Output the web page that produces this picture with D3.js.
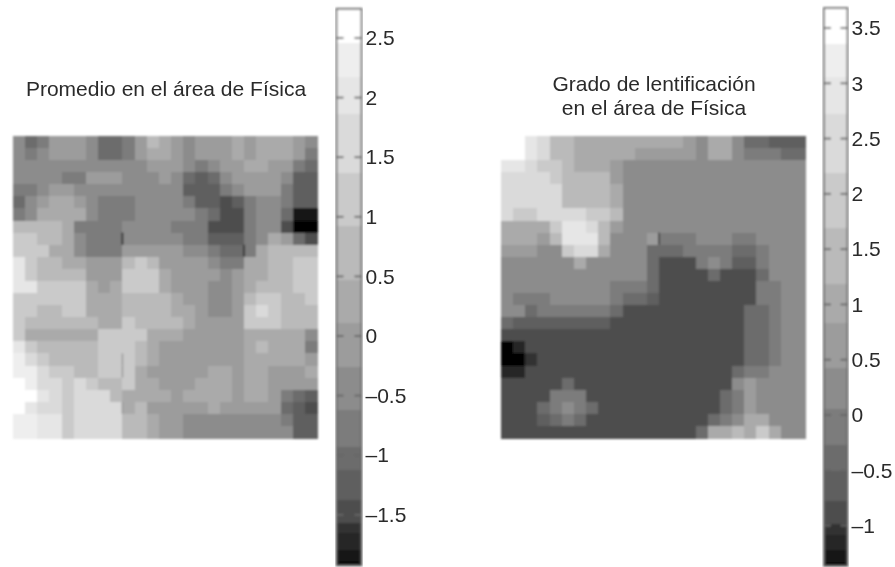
<!DOCTYPE html>
<html><head><meta charset="utf-8">
<script src="https://cdnjs.cloudflare.com/ajax/libs/d3/7.8.5/d3.min.js"></script>
<style>html,body{margin:0;padding:0;background:#fff}svg{display:block}text{font-family:"Liberation Sans",Arial,sans-serif;fill:#2b2b2b}</style>
</head><body><svg id="c" width="895" height="567"></svg>
<script>
const grays=["#000000","#161616","#262626","#333333","#4e4e4e","#5e5e5e","#6c6c6c","#7c7c7c","#8c8c8c","#9c9c9c","#aaaaaa","#bababa","#cacaca","#dadada","#e6e6e6","#eeeeee","#ffffff"];
const bandEdgesA=[-1.925,-1.89,-1.79,-1.65,-1.565,-1.37,-1.12,-0.93,-0.62,-0.26,0.117,0.47,0.93,1.372,1.866,2.176,2.46,2.745];
const bandEdgesB=[-1.365,-1.33,-1.22,-1.08,-0.98,-0.77,-0.50,-0.27,0.06,0.43,0.84,1.19,1.70,2.19,2.73,3.06,3.36,3.68];
const ticksA=[2.5,2,1.5,1,0.5,0,-0.5,-1,-1.5];
const ticksB=[3.5,3,2.5,2,1.5,1,0.5,0,-0.5,-1];
const titleA=["Promedio en el área de Física"];
const titleB=["Grado de lentificación","en el área de Física"];
const levelsA=[
[8,6,7,9,9,9,8,6,6,7,9,11,10,9,8,9,9,9,10,9,10,10,10,9,8],
[8,7,8,9,9,9,8,6,6,7,9,10,10,9,8,9,9,9,10,9,10,10,10,9,7],
[8,8,8,8,8,8,8,8,8,8,8,9,9,9,8,7,8,9,9,10,10,9,9,7,6],
[8,8,8,8,7,7,9,9,9,8,8,8,9,8,6,5,6,8,9,9,9,9,8,5,5],
[7,7,8,9,9,8,8,8,8,8,8,8,8,8,5,5,5,7,8,9,9,9,7,5,5],
[6,8,9,10,10,9,8,7,7,7,8,8,8,8,7,5,5,4,5,7,8,8,7,5,5],
[7,8,10,10,10,10,8,7,7,7,8,8,8,8,8,7,6,4,4,7,8,8,6,1,1],
[11,11,11,11,10,7,7,7,7,8,8,8,8,7,7,7,4,4,4,7,8,8,4,0,0],
[12,12,11,11,10,8,7,7,7,8,8,8,8,8,7,7,5,5,5,7,8,10,9,6,4],
[12,12,12,10,10,8,7,7,7,9,9,9,9,9,8,8,7,6,6,7,10,11,11,11,11],
[14,12,11,11,10,10,9,9,9,11,12,11,9,9,9,9,8,7,7,10,10,11,11,12,12],
[14,12,11,11,11,11,9,9,9,12,12,12,10,9,9,9,9,8,9,10,10,11,11,12,12],
[14,14,12,12,12,12,10,9,10,12,12,12,10,9,9,9,8,8,9,10,11,11,11,12,12],
[12,12,12,12,12,12,10,10,10,11,11,11,11,10,9,9,8,8,9,11,12,12,11,11,12],
[12,12,11,11,12,12,10,10,10,11,11,11,11,10,10,9,8,8,9,12,13,12,11,11,11],
[12,11,11,11,11,11,11,10,10,12,11,11,11,11,10,9,9,9,9,12,12,12,11,11,11],
[12,10,10,10,10,10,10,12,12,12,12,10,10,10,9,9,9,9,9,10,10,10,10,10,8],
[14,12,11,11,11,11,11,12,12,12,11,10,9,9,9,9,9,9,9,10,11,10,10,10,7],
[15,13,12,11,11,11,11,12,12,12,11,10,9,9,9,9,9,9,9,10,10,10,10,10,9],
[15,15,13,12,12,11,11,12,12,12,10,9,9,9,9,9,10,10,9,10,10,9,9,9,10],
[16,15,13,13,12,13,12,11,11,12,10,10,9,9,9,10,10,10,9,10,10,9,9,9,9],
[16,16,14,13,12,13,13,13,11,10,10,10,10,9,10,10,10,10,9,10,10,9,7,6,5],
[16,14,13,13,12,13,13,13,13,10,11,9,9,9,9,9,10,9,9,9,9,9,6,5,4],
[15,15,14,14,12,13,13,13,13,11,11,10,9,9,8,8,8,8,8,8,8,8,7,5,5],
[15,15,14,14,12,13,13,13,13,11,11,10,9,9,8,8,8,8,8,8,8,8,8,5,5]];
const levelsB=[
[16,16,14,13,11,11,10,10,10,10,10,10,10,10,10,9,8,10,10,8,6,6,5,5,5],
[16,16,14,13,11,11,10,10,10,10,10,9,9,9,9,9,8,10,10,8,7,7,7,6,6],
[14,14,13,12,12,11,10,10,10,9,8,8,8,8,8,8,8,8,8,8,8,8,8,8,8],
[13,13,13,13,12,11,11,11,11,9,8,8,8,8,8,8,8,8,8,8,8,8,8,8,8],
[13,13,13,13,13,11,11,11,11,10,8,8,8,8,8,8,8,8,8,8,8,8,8,8,8],
[13,13,13,13,13,11,11,11,11,10,8,8,8,8,8,8,8,8,8,8,8,8,8,8,8],
[13,12,12,13,13,13,13,12,12,11,8,8,8,8,8,8,8,8,8,8,8,8,8,8,8],
[10,10,10,10,12,14,14,13,11,9,8,8,8,8,8,8,8,8,8,8,8,8,8,8,8],
[10,10,10,9,11,14,14,14,11,8,8,8,9,7,7,7,8,8,8,7,7,8,8,8,8],
[9,9,9,8,8,12,13,13,10,8,8,8,6,6,6,7,7,7,7,6,6,7,8,8,8],
[8,8,8,8,8,8,10,8,8,8,8,8,6,4,4,4,7,8,7,5,5,7,8,8,8],
[8,8,8,8,8,8,8,8,8,8,8,8,6,4,4,4,4,6,4,4,4,6,8,8,8],
[8,8,8,8,8,8,8,8,8,7,7,7,6,4,4,4,4,4,4,4,4,7,7,8,8],
[8,7,7,7,8,8,8,8,8,7,6,6,5,4,4,4,4,4,4,4,4,7,7,8,8],
[8,8,6,7,7,7,7,7,7,6,4,4,4,4,4,4,4,4,4,4,6,6,7,8,8],
[6,5,5,5,5,5,5,5,5,4,4,4,4,4,4,4,4,4,4,4,6,6,7,8,8],
[4,4,4,4,4,4,4,4,4,4,4,4,4,4,4,4,4,4,4,4,6,6,7,8,8],
[0,2,4,4,4,4,4,4,4,4,4,4,4,4,4,4,4,4,4,4,6,6,7,8,8],
[0,0,3,4,4,4,4,4,4,4,4,4,4,4,4,4,4,4,4,4,6,6,7,8,8],
[2,2,4,4,4,4,4,4,4,4,4,4,4,4,4,4,4,4,4,6,7,7,8,8,8],
[4,4,4,4,4,6,4,4,4,4,4,4,4,4,4,4,4,4,4,8,9,8,8,8,8],
[4,4,4,4,7,7,7,4,4,4,4,4,4,4,4,4,4,4,6,7,9,8,8,8,8],
[4,4,4,6,7,8,7,6,4,4,4,4,4,4,4,4,4,4,6,7,9,8,8,8,8],
[4,4,4,5,6,7,6,4,4,4,4,4,4,4,4,4,4,6,7,8,10,10,8,8,8],
[4,4,4,4,4,4,4,4,4,4,4,4,4,4,4,4,6,10,10,11,10,12,10,8,8]];
const sliverColsA=[9,19,9,9,9], sliverRowsA=[8,9,18,19,22], sliverLevelsA=[1,2,9,9,9];
const sliverColsB=[13], sliverRowsB=[8], sliverLevelsB=[3];

const svg=d3.select("#c");
svg.append("rect").attr("width",895).attr("height",567).attr("fill","#fff");
const defs=svg.append("defs");
const mkBlur=(id,s)=>defs.append("filter").attr("id",id).attr("x","-5%").attr("y","-5%").attr("width","110%").attr("height","110%")
  .append("feGaussianBlur").attr("stdDeviation",s);
mkBlur("soft",1.15); mkBlur("softer",0.8); mkBlur("txt",0.3);
const color=d3.scaleOrdinal(d3.range(grays.length),grays);

function heat(levels,x0,x1,y0,y1,sc,sr,sl){
  const x=d3.scaleBand(d3.range(25),[x0,x1]);
  const y=d3.scaleBand(d3.range(25),[y0,y1]);
  const g=svg.append("g").attr("filter","url(#soft)");
  levels.forEach((row,r)=>{
    g.selectAll(null).data(row).join("rect")
      .attr("shape-rendering","crispEdges")
      .attr("x",(d,c)=>x(c)).attr("y",y(r))
      .attr("width",x.bandwidth()+0.5).attr("height",y.bandwidth()+0.5)
      .attr("fill",d=>color(d));
  });
  g.selectAll(null).data(sc).join("rect")
    .attr("x",d=>x(d)-0.8).attr("y",(d,i)=>y(sr[i])).attr("width",1.6).attr("height",y.bandwidth())
    .attr("fill",(d,i)=>color(sl[i]));
}
heat(levelsA,13,317,136,438,sliverColsA,sliverRowsA,sliverLevelsA);
heat(levelsB,501,805,136,438,sliverColsB,sliverRowsB,sliverLevelsB);

function colorbar(edges,ticks,bx,bw,y2v){
  const y=d3.scaleLinear().domain(y2v.domain).range(y2v.range);
  const g=svg.append("g");
  const bands=d3.range(edges.length-1);
  const inner=g.append("g").attr("filter","url(#softer)");
  inner.selectAll("rect").data(bands).join("rect")
    .attr("shape-rendering","crispEdges")
    .attr("x",bx).attr("width",bw)
    .attr("y",i=>y(edges[i+1])).attr("height",i=>y(edges[i])-y(edges[i+1])+0.5)
    .attr("fill",i=>color(i));
  inner.append("rect").attr("x",bx).attr("y",y(edges[edges.length-1])).attr("width",bw)
    .attr("height",y(edges[0])-y(edges[edges.length-1]))
    .attr("fill","none").attr("stroke","#666").attr("stroke-width",1.8);
  const marks=inner.selectAll(null).data(ticks).join("g");
  marks.append("line").attr("x1",bx).attr("x2",bx+7).attr("y1",y).attr("y2",y).attr("stroke","#666").attr("stroke-width",1.8);
  marks.append("line").attr("x1",bx+bw-7).attr("x2",bx+bw).attr("y1",y).attr("y2",y).attr("stroke","#666").attr("stroke-width",1.8);
  const ax=d3.axisRight(y).tickValues(ticks).tickSize(0).tickPadding(4)
    .tickFormat(d=>String(d).replace("-","–"));
  const a=g.append("g").attr("transform",`translate(${bx+bw},0)`).call(ax);
  a.select(".domain").remove();
  a.selectAll("text").style("font-size","21px").style("font-family",'"Liberation Sans",Arial,sans-serif').attr("fill","#2b2b2b").attr("filter","url(#txt)");
}
colorbar(bandEdgesA,ticksA,336.5,25,{domain:[0,2.5],range:[336,38]});
colorbar(bandEdgesB,ticksB,824,23.5,{domain:[0,3.5],range:[415,28]});

svg.append("g").attr("filter","url(#txt)").selectAll("text").data(titleA).join("text")
  .attr("x",166).attr("y",96).attr("text-anchor","middle").style("font-size","21px").text(d=>d);
svg.append("g").attr("filter","url(#txt)").selectAll("text").data(titleB).join("text")
  .attr("x",654).attr("y",(d,i)=>91+i*23.5).attr("text-anchor","middle").style("font-size","21px").text(d=>d);
</script></body></html>
